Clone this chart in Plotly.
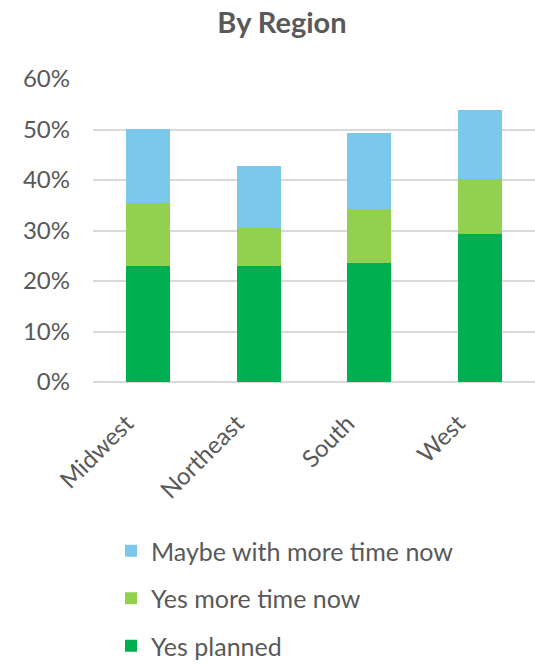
import plotly.graph_objects as go

regions = ["Midwest", "Northeast", "South", "West"]
yes_planned = [0.230, 0.230, 0.236, 0.294]
yes_more_time = [0.124, 0.074, 0.107, 0.108]
maybe_more_time = [0.147, 0.124, 0.151, 0.137]

series = [
    ("Yes planned", yes_planned, "#00B050", 3),
    ("Yes more time now", yes_more_time, "#92D050", 2),
    ("Maybe with more time now", maybe_more_time, "#7CC8EC", 1),
]

font_family = "Lato, 'Open Sans', sans-serif"
txt = "#595959"

L, R, T, B = 93, 0, 79, 282
W, H = 535, 664
pw = W - L - R
ph = H - T - B

fig = go.Figure()
for name, vals, col, rank in series:
    fig.add_trace(go.Bar(
        x=regions, y=vals, name=name, legendgroup=name, legendrank=rank,
        marker=dict(color=col, line=dict(width=0)),
        width=0.4,
    ))

pad = "\u00a0" * 5
fig.update_layout(
    width=W, height=H,
    barmode="stack",
    paper_bgcolor="white", plot_bgcolor="white",
    margin=dict(l=L, r=R, t=T, b=B, autoexpand=False),
    font=dict(family=font_family, color=txt, size=24),
    title=dict(text="<b>By Region</b>", x=282/W, xanchor="center",
               xref="container", y=1-23/H, yref="container", yanchor="middle",
               font=dict(size=29, color=txt, family=font_family)),
    yaxis=dict(range=[0, 0.6], dtick=0.1, tickformat=".0%",
               showgrid=True, gridcolor="#D9D9D9", gridwidth=1.5,
               zeroline=True, zerolinecolor="#D9D9D9", zerolinewidth=1.5,
               ticks="", ticklabelstandoff=22, showline=False,
               tickfont=dict(size=24, color=txt)),
    xaxis=dict(tickangle=-45, ticks="", showline=False,
               tickmode="array", tickvals=regions,
               ticktext=[r + pad for r in regions],
               tickfont=dict(size=24, color=txt)),
    legend=dict(orientation="v", traceorder="grouped",
                tracegroupgap=12,
                x=(111-L)/pw, y=(T+ph-528)/ph, xanchor="left", yanchor="top",
                font=dict(size=25, color=txt)),
)

fig.write_html("out.html")
